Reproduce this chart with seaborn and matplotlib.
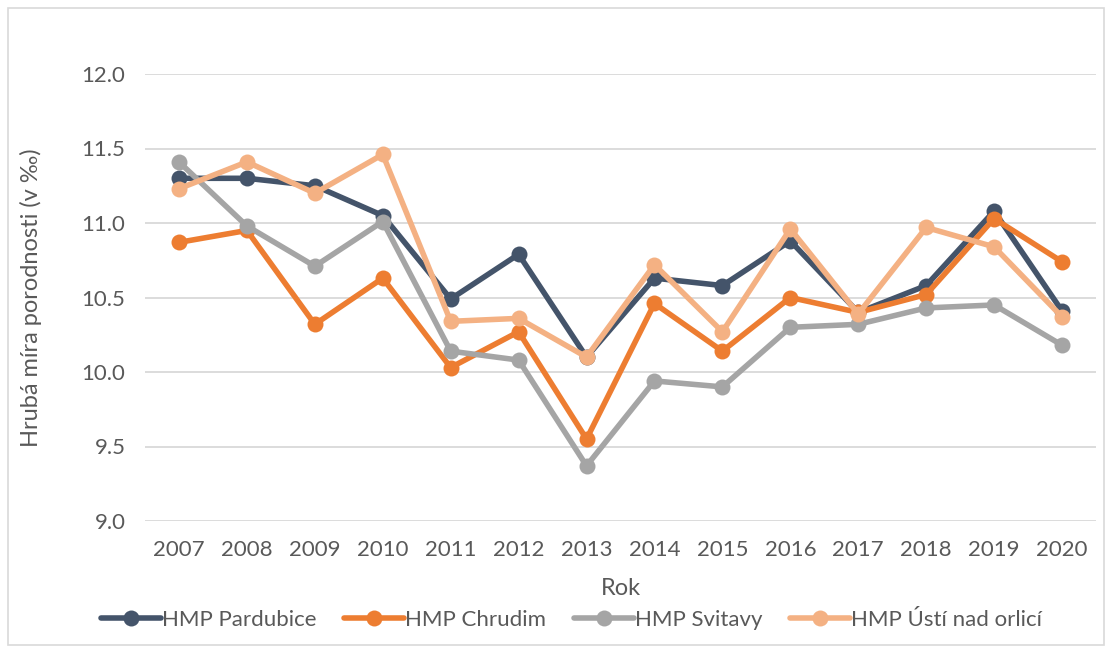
import matplotlib
matplotlib.use("Agg")
import matplotlib.pyplot as plt
import seaborn as sns
import pandas as pd
from matplotlib.patches import Rectangle

years = [2007, 2008, 2009, 2010, 2011, 2012, 2013, 2014, 2015, 2016, 2017, 2018, 2019, 2020]
pardubice = [11.30, 11.30, 11.25, 11.05, 10.49, 10.79, 10.10, 10.63, 10.58, 10.88, 10.40, 10.58, 11.08, 10.41]
chrudim = [10.87, 10.95, 10.32, 10.63, 10.03, 10.27, 9.55, 10.46, 10.14, 10.50, 10.40, 10.52, 11.03, 10.74]
svitavy = [11.41, 10.98, 10.71, 11.01, 10.14, 10.08, 9.37, 9.94, 9.90, 10.30, 10.32, 10.43, 10.45, 10.18]
usti = [11.23, 11.41, 11.20, 11.46, 10.34, 10.36, 10.10, 10.72, 10.27, 10.96, 10.39, 10.97, 10.84, 10.37]
series_names = ["HMP Pardubice", "HMP Chrudim", "HMP Svitavy", "HMP Ústí nad orlicí"]
colors = ["#44546a", "#ed7d31", "#a5a5a5", "#f4b183"]
y_ticks = [9.0, 9.5, 10.0, 10.5, 11.0, 11.5, 12.0]

rows = []
for name, vals in zip(series_names, [pardubice, chrudim, svitavy, usti]):
    for i, (yr, v) in enumerate(zip(years, vals)):
        rows.append({"idx": i, "Rok": str(yr), "value": v, "series": name})
df = pd.DataFrame(rows)

sns.set_theme(style="white")
plt.rcParams["font.family"] = ["Lato", "DejaVu Sans"]

fig = plt.figure(figsize=(11.12, 6.53), dpi=100)
fig.patches.append(Rectangle((8/1112, 8/653), 1096/1112, 637/653, transform=fig.transFigure,
                             fill=False, edgecolor="#d9d9d9", linewidth=1.2))
ax = fig.add_axes([145/1112, 1 - 521/653, (1096-145)/1112, (521-74)/653])

sns.lineplot(data=df, x="idx", y="value", hue="series", hue_order=series_names,
             palette=colors, marker="o", markersize=11.5, linewidth=4,
             markeredgewidth=0, ax=ax, legend=True, sort=False)
for ln in ax.lines:
    ln.set_clip_on(False)

ax.set_xlim(-0.5, len(years) - 0.5)
ax.set_ylim(9.0, 12.0)
ax.set_yticks(y_ticks)
ax.set_yticklabels([f"{t:.1f}" for t in y_ticks])
ax.set_xticks(range(len(years)))
ax.set_xticklabels([str(y) for y in years])
ax.yaxis.grid(True, color="#d9d9d9", linewidth=1.3)
ax.set_axisbelow(True)
for s in ax.spines.values():
    s.set_visible(False)
ax.tick_params(axis="both", length=0, labelsize=16, colors="#595959")
ax.tick_params(axis="y", pad=14)
ax.tick_params(axis="x", pad=14)
ax.set_xlabel("Rok", fontsize=17, color="#595959")
ax.set_ylabel("Hrubá míra porodnosti (v ‰)", fontsize=17, color="#595959")
ax.xaxis.set_label_coords(0.5, (521 - 578) / 447)
ax.yaxis.set_label_coords((42 - 145) / 951, 0.5)

handles, labels = ax.get_legend_handles_labels()
ax.legend(handles, labels, loc="center", bbox_to_anchor=(0.514, 1 - 620/653), bbox_transform=fig.transFigure,
          ncol=4, frameon=False, fontsize=16, handlelength=2.7, handletextpad=0.05, columnspacing=1.25,
          labelcolor="#595959")

fig.savefig("out.png", dpi=100)
